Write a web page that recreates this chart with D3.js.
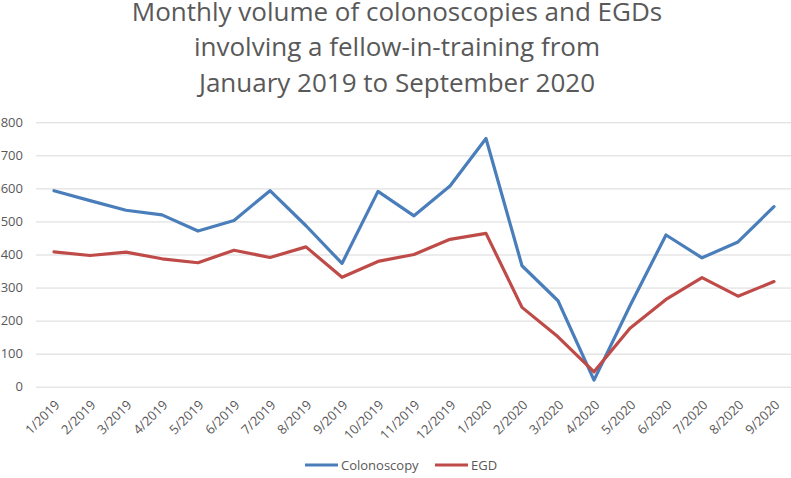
<!DOCTYPE html>
<html><head><meta charset="utf-8">
<script src="https://cdn.jsdelivr.net/npm/d3@7"></script>
<style>body{margin:0;background:#fff}svg{display:block}text{font-family:"Open Sans",sans-serif}</style>
</head><body>
<svg id="c" width="791" height="478"></svg>
<script>
const titleLines = ["Monthly volume of colonoscopies and EGDs","involving a fellow-in-training from","January 2019 to September 2020"];
const months = ["1/2019","2/2019","3/2019","4/2019","5/2019","6/2019","7/2019","8/2019","9/2019","10/2019","11/2019","12/2019","1/2020","2/2020","3/2020","4/2020","5/2020","6/2020","7/2020","8/2020","9/2020"];
const colonoscopy = [593,563,534,520,471,503,593,487,373,591,517,607,751,366,260,20,245,459,390,438,545];
const egd = [408,397,407,387,375,413,391,423,331,379,400,446,464,240,151,45,177,264,330,274,318];
const yTicks = [0,100,200,300,400,500,600,700,800];
const seriesNames = ["Colonoscopy","EGD"];
const colors = ["#4A7EBB","#BE4B48"];

const svg = d3.select("#c");
const x = d3.scalePoint().domain(months).range([36,792]).padding(0.5);
const y = d3.scaleLinear().domain([0,800]).range([386.7,122.3]);

// title
svg.append("g").selectAll("text").data(titleLines).join("text")
  .attr("x",397).attr("y",(d,i)=>21+i*35.3).attr("text-anchor","middle")
  .attr("fill","#595959").style("font-size","26px").text(d=>d);

// gridlines
const yAxis = d3.axisLeft(y).tickValues(yTicks).tickSize(-(792-36)).tickPadding(13);
const gy = svg.append("g").attr("transform","translate(36,0)").call(yAxis);
gy.select(".domain").remove();
gy.selectAll(".tick line").attr("stroke","#d9d9d9").attr("stroke-width",1);
gy.selectAll(".tick text").attr("fill","#595959").style("font-size","13px").style("font-family","'Open Sans',sans-serif");

// x axis labels
const xAxis = d3.axisBottom(x).tickSize(0).tickPadding(0);
const gx = svg.append("g").attr("transform","translate(0,386.7)").call(xAxis);
gx.select(".domain").remove();
gx.selectAll(".tick text").attr("fill","#595959").style("font-size","13px").style("font-family","'Open Sans',sans-serif")
  .attr("text-anchor","end").attr("dy",null).attr("y",0)
  .attr("transform","translate(6,19) rotate(-45)");

// lines
const line = d3.line().x((d,i)=>x(months[i])).y(d=>y(d));
[colonoscopy,egd].forEach((s,k)=>{
  svg.append("path").datum(s).attr("d",line).attr("fill","none")
    .attr("stroke",colors[k]).attr("stroke-width",3.2).attr("stroke-linejoin","round").attr("stroke-linecap","round");
});

// legend
const leg = [{x:305,name:seriesNames[0],c:colors[0]},{x:435,name:seriesNames[1],c:colors[1]}];
const lg = svg.append("g");
leg.forEach(l=>{
  lg.append("line").attr("x1",l.x).attr("x2",l.x+33).attr("y1",465).attr("y2",465).attr("stroke",l.c).attr("stroke-width",3.2);
  lg.append("text").attr("x",l.x+36).attr("y",470).attr("fill","#595959").style("font-size","13px").text(l.name);
});
</script>
</body></html>
